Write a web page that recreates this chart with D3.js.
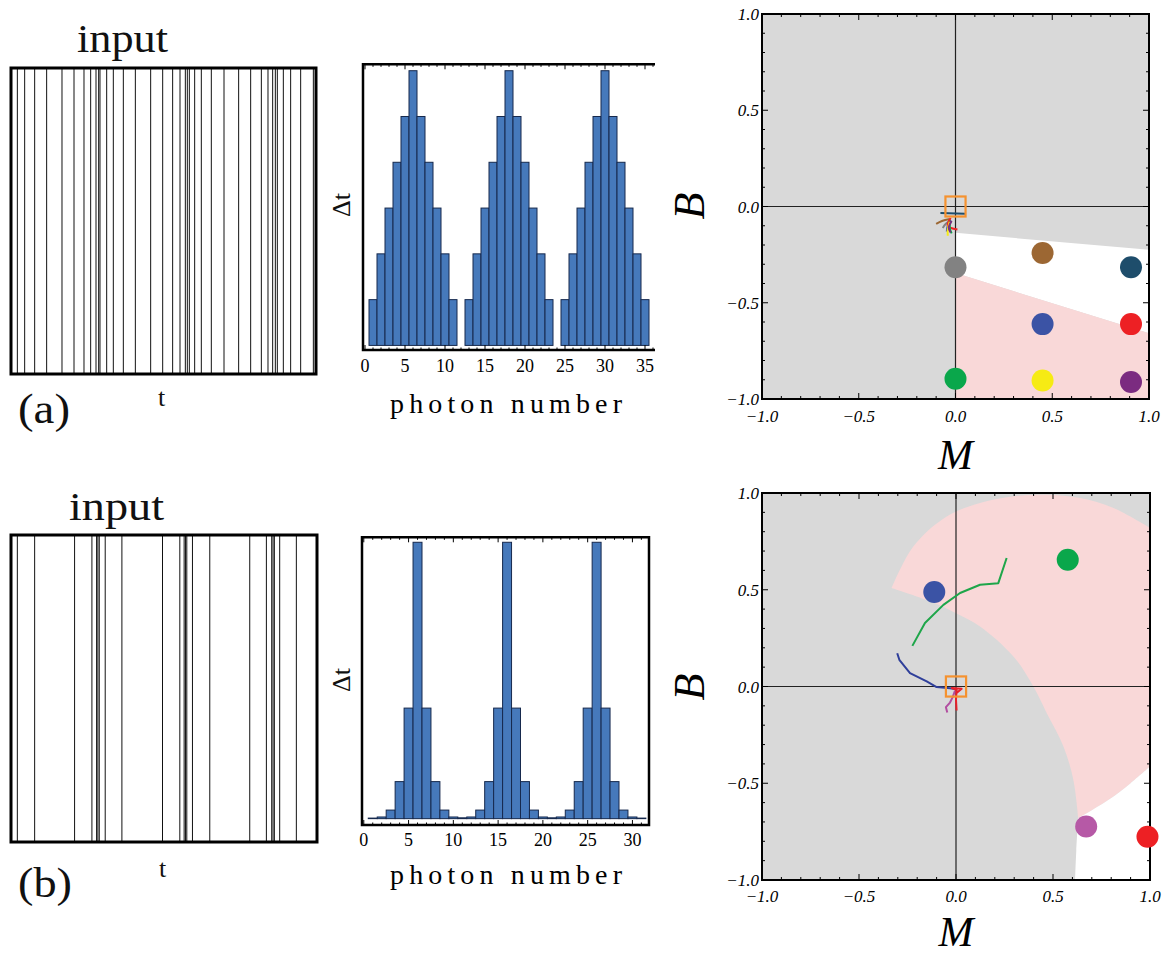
<!DOCTYPE html>
<html><head><meta charset="utf-8">
<script src="https://cdn.jsdelivr.net/npm/d3@7"></script>
<style>body{margin:0;background:#fff}</style>
</head><body>
<svg id="fig" width="1173" height="955"></svg>
<script>
// ---- input spike trains (spike times, % of the window) ----
const spikesA = [2.08, 4.48, 7.76, 11.69, 16.72, 20.66, 23.93, 26.12, 27.87, 28.74, 29.18, 31.37, 33.55,
  36.83, 40.77, 45.79, 49.73, 53.0, 55.41, 57.16, 57.81, 58.47, 60.22, 62.4, 65.68, 69.84, 74.64,
  78.58, 82.08, 84.26, 85.79, 86.67, 87.32, 89.29, 91.69, 94.97, 99.13];
const spikesB = [2.07, 7.73, 20.78, 26.44, 27.97, 28.40, 28.84, 30.79, 36.24, 49.51, 55.17, 56.58,
  57.02, 57.45, 59.30, 64.96, 78.02, 83.46, 85.20, 85.64, 86.07, 87.81, 93.25];

// ---- inter-spike interval histograms (photon number bins) ----
const binsA = [1,2,3,4,5,6,7,8,9,10,11,12,13,14,15,16,17,18,19,20,21,22,23,24,25,26,27,28,29,30,31,32,33,34,35];
const countsA = [1,2,3,4,5,6,5,4,3,2,1,0,1,2,3,4,5,6,5,4,3,2,1,0,1,2,3,4,5,6,5,4,3,2,1];
const binsB = [1,2,3,4,5,6,7,8,9,10,11,12,13,14,15,16,17,18,19,20,21,22,23,24,25,26,27,28,29,30,31];
const countsB = [0.002,0.006,0.031,0.134,0.40,1.0,0.40,0.134,0.031,0.006,0.003,0.006,0.031,0.134,0.40,1.0,
  0.40,0.134,0.031,0.006,0.003,0.006,0.031,0.134,0.40,1.0,0.40,0.134,0.031,0.006,0.002];
const histTicksA = [0,5,10,15,20,25,30,35];
const histTicksB = [0,5,10,15,20,25,30];

// ---- (M, B) phase diagrams ----
const phaseTicks = [-1, -0.5, 0, 0.5, 1];
const phaseTickLabels = ["\u22121.0", "\u22120.5", "0.0", "0.5", "1.0"];

// panel (a): region boundaries
const regionAWhite = [[0,-0.137],[1,-0.225],[1,-0.658],[0,-0.346]];
const regionAPink  = [[0,-0.346],[1,-0.658],[1,-1],[0,-1]];
// panel (a): final states
const dotsAM = [0, 0.45, 0.907, 0.45, 0.907, 0, 0.45, 0.907];
const dotsAB = [-0.316, -0.242, -0.316, -0.611, -0.611, -0.895, -0.904, -0.912];
const dotsAColor = ["#828282","#9c6733","#1e4d6b","#3b53a5","#ed2024","#0aa74b","#f6eb14","#7b2b80"];
// panel (a): learning trajectories, one per final state
const trajA = [
  [[-0.03,-0.075],[-0.05,-0.09],[-0.066,-0.112]],
  [[-0.03,-0.065],[-0.07,-0.075],[-0.10,-0.09]],
  [[-0.078,-0.034],[0.05,-0.038]],
  [[-0.025,-0.07],[-0.04,-0.10],[-0.045,-0.13]],
  [[-0.025,-0.06],[-0.04,-0.10],[0.01,-0.12]],
  [[-0.025,-0.075],[-0.03,-0.11],[-0.02,-0.14]],
  [[-0.03,-0.08],[-0.04,-0.12],[-0.04,-0.152]],
  [[-0.02,-0.075],[-0.035,-0.11],[-0.025,-0.135]]
];

// panel (b): region boundaries
const pinkOuterB = [[-0.332,0.509],[-0.22,0.724],[-0.048,0.879],[0.124,0.948],[0.296,0.983],[0.468,0.991],
  [0.64,0.974],[0.812,0.922],[1.0,0.819]];
const pinkLowerB = [[1.0,-0.414],[0.9,-0.50],[0.812,-0.569],[0.70,-0.64],[0.63,-0.68]];
const innerB = [[0.63,-0.68],[0.605,-0.483],[0.554,-0.31],[0.468,-0.138],[0.399,0],[0.296,0.155],
  [0.124,0.31],[0,0.379],[-0.134,0.44],[-0.332,0.509]];
const whiteEdgeB = [[0.63,-0.68],[0.62,-0.85],[0.614,-1]];
// panel (b): final states
const dotsBM = [-0.112, 0.576, 0.671, 0.987];
const dotsBB = [0.488, 0.655, -0.724, -0.776];
const dotsBColor = ["#3b53a5","#0aa74b","#b659a6","#ed2024"];
// panel (b): learning trajectories
const trajB = [
  [[-0.303,0.172],[-0.292,0.138],[-0.237,0.069],[-0.151,0.026],[-0.10,-0.003],[-0.031,-0.009],[0.003,-0.014]],
  [[-0.225,0.21],[-0.16,0.328],[-0.065,0.422],[0.021,0.483],[0.124,0.526],[0.218,0.534],[0.261,0.664]],
  [[-0.045,-0.134],[-0.052,-0.107],[-0.031,-0.083],[-0.017,-0.055],[-0.005,-0.021]],
  [[0.003,-0.124],[0,-0.069],[0.003,-0.017],[-0.022,-0.008],[0.029,-0.012],[0.003,-0.034],[0.003,-0.017]]
];
const trajBColor = ["#2f3f9a","#1ea64a","#b24ea0","#e8202a"];

const serif = "'Liberation Serif','DejaVu Serif',serif";
const svg = d3.select("#fig");
svg.append("rect").attr("width",1173).attr("height",955).attr("fill","#fff");

// ---------- raster of spikes ----------
function raster(spikes, x0, x1, y0, y1) {
  const x = d3.scaleLinear([0,100],[x0,x1]);
  const g = svg.append("g");
  g.selectAll("line").data(spikes).join("line")
    .attr("x1", d => x(d)).attr("x2", d => x(d))
    .attr("y1", y0).attr("y2", y1)
    .attr("stroke","#111").attr("stroke-width",1);
  g.append("rect").attr("x",x0).attr("y",y0).attr("width",x1-x0).attr("height",y1-y0)
    .attr("fill","none").attr("stroke","#000").attr("stroke-width",3);
}
raster(spikesA, 11, 316, 68, 374);
raster(spikesB, 11, 317, 535, 842);

// ---------- histograms ----------
function histogram(bins, counts, ticks, xd, xr, yd, yr, labelY, closeRight) {
  const x = d3.scaleLinear(xd, xr);
  const y = d3.scaleLinear(yd, yr);
  const g = svg.append("g");
  const data = bins.map((b,i) => ({b, c: counts[i]})).filter(d => d.c > 0);
  g.selectAll("rect.bar").data(data).join("rect").attr("class","bar")
    .attr("x", d => x(d.b - 0.5)).attr("width", d => x(d.b + 0.5) - x(d.b - 0.5))
    .attr("y", d => y(d.c)).attr("height", d => y(0) - y(d.c))
    .attr("fill","#4679bb").attr("stroke","#16294d").attr("stroke-width",1);
  const [L,R] = xr, [B,T] = yr;
  // minor and major ticks on top and bottom edges
  const minor = d3.range(Math.ceil(xd[0]), Math.floor(xd[1]) + 1);
  minor.forEach(v => {
    const len = v % 5 === 0 ? 5 : 2.5;
    g.append("line").attr("x1",x(v)).attr("x2",x(v)).attr("y1",B).attr("y2",B-len).attr("stroke","#000");
    g.append("line").attr("x1",x(v)).attr("x2",x(v)).attr("y1",T).attr("y2",T+len).attr("stroke","#000");
  });
  const path = closeRight
    ? `M${R},${T}L${L},${T}L${L},${B}L${R},${B}Z`
    : `M${R},${T}L${L},${T}L${L},${B}L${R},${B}`;
  g.append("path").attr("d",path).attr("fill","none").attr("stroke","#000").attr("stroke-width",2.5);
  g.selectAll("text.tk").data(ticks).join("text").attr("class","tk")
    .attr("x", d => x(d)).attr("y", labelY).attr("text-anchor","middle")
    .attr("font-family",serif).attr("font-size",18).text(d => d);
}
histogram(binsA, countsA, histTicksA, [-0.25, 36.25], [363, 655], [-0.1, 6.14], [350, 64.3], 372, false);
histogram(binsB, countsB, histTicksB, [-0.2, 31.85], [362, 649], [-0.023, 1.018], [825, 537.3], 846, true);

// ---------- phase diagrams ----------
function phase(xr, yr) {
  const x = d3.scaleLinear([-1,1], xr);
  const y = d3.scaleLinear([-1,1], yr);
  const g = svg.append("g");
  g.append("rect").attr("x",xr[0]).attr("y",yr[1]).attr("width",xr[1]-xr[0]).attr("height",yr[0]-yr[1])
    .attr("fill","#d9d9d9");
  return {x, y, g};
}
function finishPhase(P, xr, yr, labelY, mY, bY) {
  const {x, y, g} = P;
  g.append("line").attr("x1",x(-1)).attr("x2",x(1)).attr("y1",y(0)).attr("y2",y(0)).attr("stroke","#222").attr("stroke-width",1.2);
  g.append("line").attr("x1",x(0)).attr("x2",x(0)).attr("y1",y(-1)).attr("y2",y(1)).attr("stroke","#222").attr("stroke-width",1.2);
  const minor = d3.range(-10, 11).map(v => v / 10);
  minor.forEach(v => {
    const len = Math.abs(v * 2 - Math.round(v * 2)) < 1e-6 ? 6 : 3;
    g.append("line").attr("x1",x(v)).attr("x2",x(v)).attr("y1",yr[0]).attr("y2",yr[0]-len).attr("stroke","#000");
    g.append("line").attr("x1",x(v)).attr("x2",x(v)).attr("y1",yr[1]).attr("y2",yr[1]+len).attr("stroke","#000");
    g.append("line").attr("y1",y(v)).attr("y2",y(v)).attr("x1",xr[0]).attr("x2",xr[0]+len).attr("stroke","#000");
    g.append("line").attr("y1",y(v)).attr("y2",y(v)).attr("x1",xr[1]).attr("x2",xr[1]-len).attr("stroke","#000");
  });
  g.append("rect").attr("x",xr[0]).attr("y",yr[1]).attr("width",xr[1]-xr[0]).attr("height",yr[0]-yr[1])
    .attr("fill","none").attr("stroke","#000").attr("stroke-width",2);
  g.selectAll("text.xt").data(phaseTicks).join("text").attr("class","xt")
    .attr("x", d => x(d)).attr("y", labelY).attr("text-anchor","middle")
    .attr("font-family",serif).attr("font-style","italic").attr("font-size",17)
    .text((d,i) => phaseTickLabels[i]);
  g.selectAll("text.yt").data(phaseTicks).join("text").attr("class","yt")
    .attr("x", xr[0] - 3).attr("y", d => y(d) + 6).attr("text-anchor","end")
    .attr("font-family",serif).attr("font-style","italic").attr("font-size",17)
    .text((d,i) => phaseTickLabels[i]);
  g.append("text").attr("x", x(0)).attr("y", mY).attr("text-anchor","middle")
    .attr("font-family",serif).attr("font-style","italic").attr("font-size",42).text("M");
  g.append("text").attr("transform",`translate(704,${bY}) rotate(-90)`).attr("text-anchor","middle")
    .attr("font-family",serif).attr("font-style","italic").attr("font-size",44).text("B");
  // origin marker
  g.append("rect").attr("class","origin").attr("x",x(-0.052)).attr("y",y(0.052)).attr("width",x(0.052)-x(-0.052))
    .attr("height",y(-0.052)-y(0.052)).attr("fill","none").attr("stroke","#f5922f").attr("stroke-width",2.2);
}
const seg = (line, pts, first) => { const s = line(pts); return first ? s : s.replace(/^M/,"L"); };

// panel (a)
{
  const xr = [762,1149], yr = [399,14];
  const P = phase(xr, yr);
  const {x, y, g} = P;
  const poly = d3.line().x(d => x(d[0])).y(d => y(d[1]));
  g.append("path").attr("d", poly(regionAWhite) + "Z").attr("fill","#fff");
  g.append("path").attr("d", poly(regionAPink) + "Z").attr("fill","#f9d8d8");
  finishPhase(P, xr, yr, 422, 469, 206);
  const tl = d3.line().x(d => x(d[0])).y(d => y(d[1])).curve(d3.curveCatmullRom);
  g.selectAll("path.tr").data(trajA).join("path").attr("class","tr")
    .attr("d", tl).attr("fill","none").attr("stroke",(d,i) => dotsAColor[i]).attr("stroke-width",2);
  g.selectAll("circle").data(dotsAM).join("circle")
    .attr("cx", d => x(d)).attr("cy", (d,i) => y(dotsAB[i])).attr("r", 11)
    .attr("fill", (d,i) => dotsAColor[i]);
  g.select("rect.origin").raise();
}

// panel (b)
{
  const xr = [762,1150], yr = [880,493];
  const P = phase(xr, yr);
  const {x, y, g} = P;
  const curve = d3.line().x(d => x(d[0])).y(d => y(d[1])).curve(d3.curveCatmullRom);
  const pinkPath = seg(curve, pinkOuterB, true) + seg(curve, pinkLowerB, false) + seg(curve, innerB, false) + "Z";
  g.append("path").attr("d", pinkPath).attr("fill","#f9d8d8");
  const whitePath = seg(curve, whiteEdgeB, true) + `L${x(1)},${y(-1)}` +
    seg(curve, pinkLowerB, false) + "Z";
  g.append("path").attr("d", whitePath).attr("fill","#fff");
  finishPhase(P, xr, yr, 902, 946, 687);
  const tl = d3.line().x(d => x(d[0])).y(d => y(d[1]));
  g.selectAll("path.tr").data(trajB).join("path").attr("class","tr")
    .attr("d", tl).attr("fill","none").attr("stroke",(d,i) => trajBColor[i]).attr("stroke-width",2)
    .attr("stroke-linejoin","round");
  g.selectAll("circle").data(dotsBM).join("circle")
    .attr("cx", d => x(d)).attr("cy", (d,i) => y(dotsBB[i])).attr("r", 11)
    .attr("fill", (d,i) => dotsBColor[i]);
  g.select("rect.origin").raise();
}

// ---------- labels ----------
function label(txt, x, y, size, len, rot) {
  const t = svg.append("text").attr("font-family",serif).attr("font-size",size).attr("fill","#111")
    .attr("text-anchor", rot ? "middle" : "start").text(txt);
  if (rot) t.attr("transform",`translate(${x},${y}) rotate(-90)`);
  else t.attr("x",x).attr("y",y);
  if (len) t.attr("textLength",len).attr("lengthAdjust","spacingAndGlyphs");
  return t;
}
label("input", 77, 52, 41, 91);
label("input", 69, 520, 41, 95);
label("(a)", 18, 423, 42, 52);
label("(b)", 18, 897, 42, 54);
label("t", 158, 406, 26);
label("t", 159, 877, 26);
label("\u0394t", 350, 205, 26, 0, true);
label("\u0394t", 350, 680, 26, 0, true);
svg.append("text").attr("x",390).attr("y",413).attr("font-family",serif).attr("font-size",28)
  .attr("textLength",232).attr("lengthAdjust","spacing").text("photon number");
svg.append("text").attr("x",390).attr("y",884).attr("font-family",serif).attr("font-size",28)
  .attr("textLength",232).attr("lengthAdjust","spacing").text("photon number");
</script>
</body></html>
